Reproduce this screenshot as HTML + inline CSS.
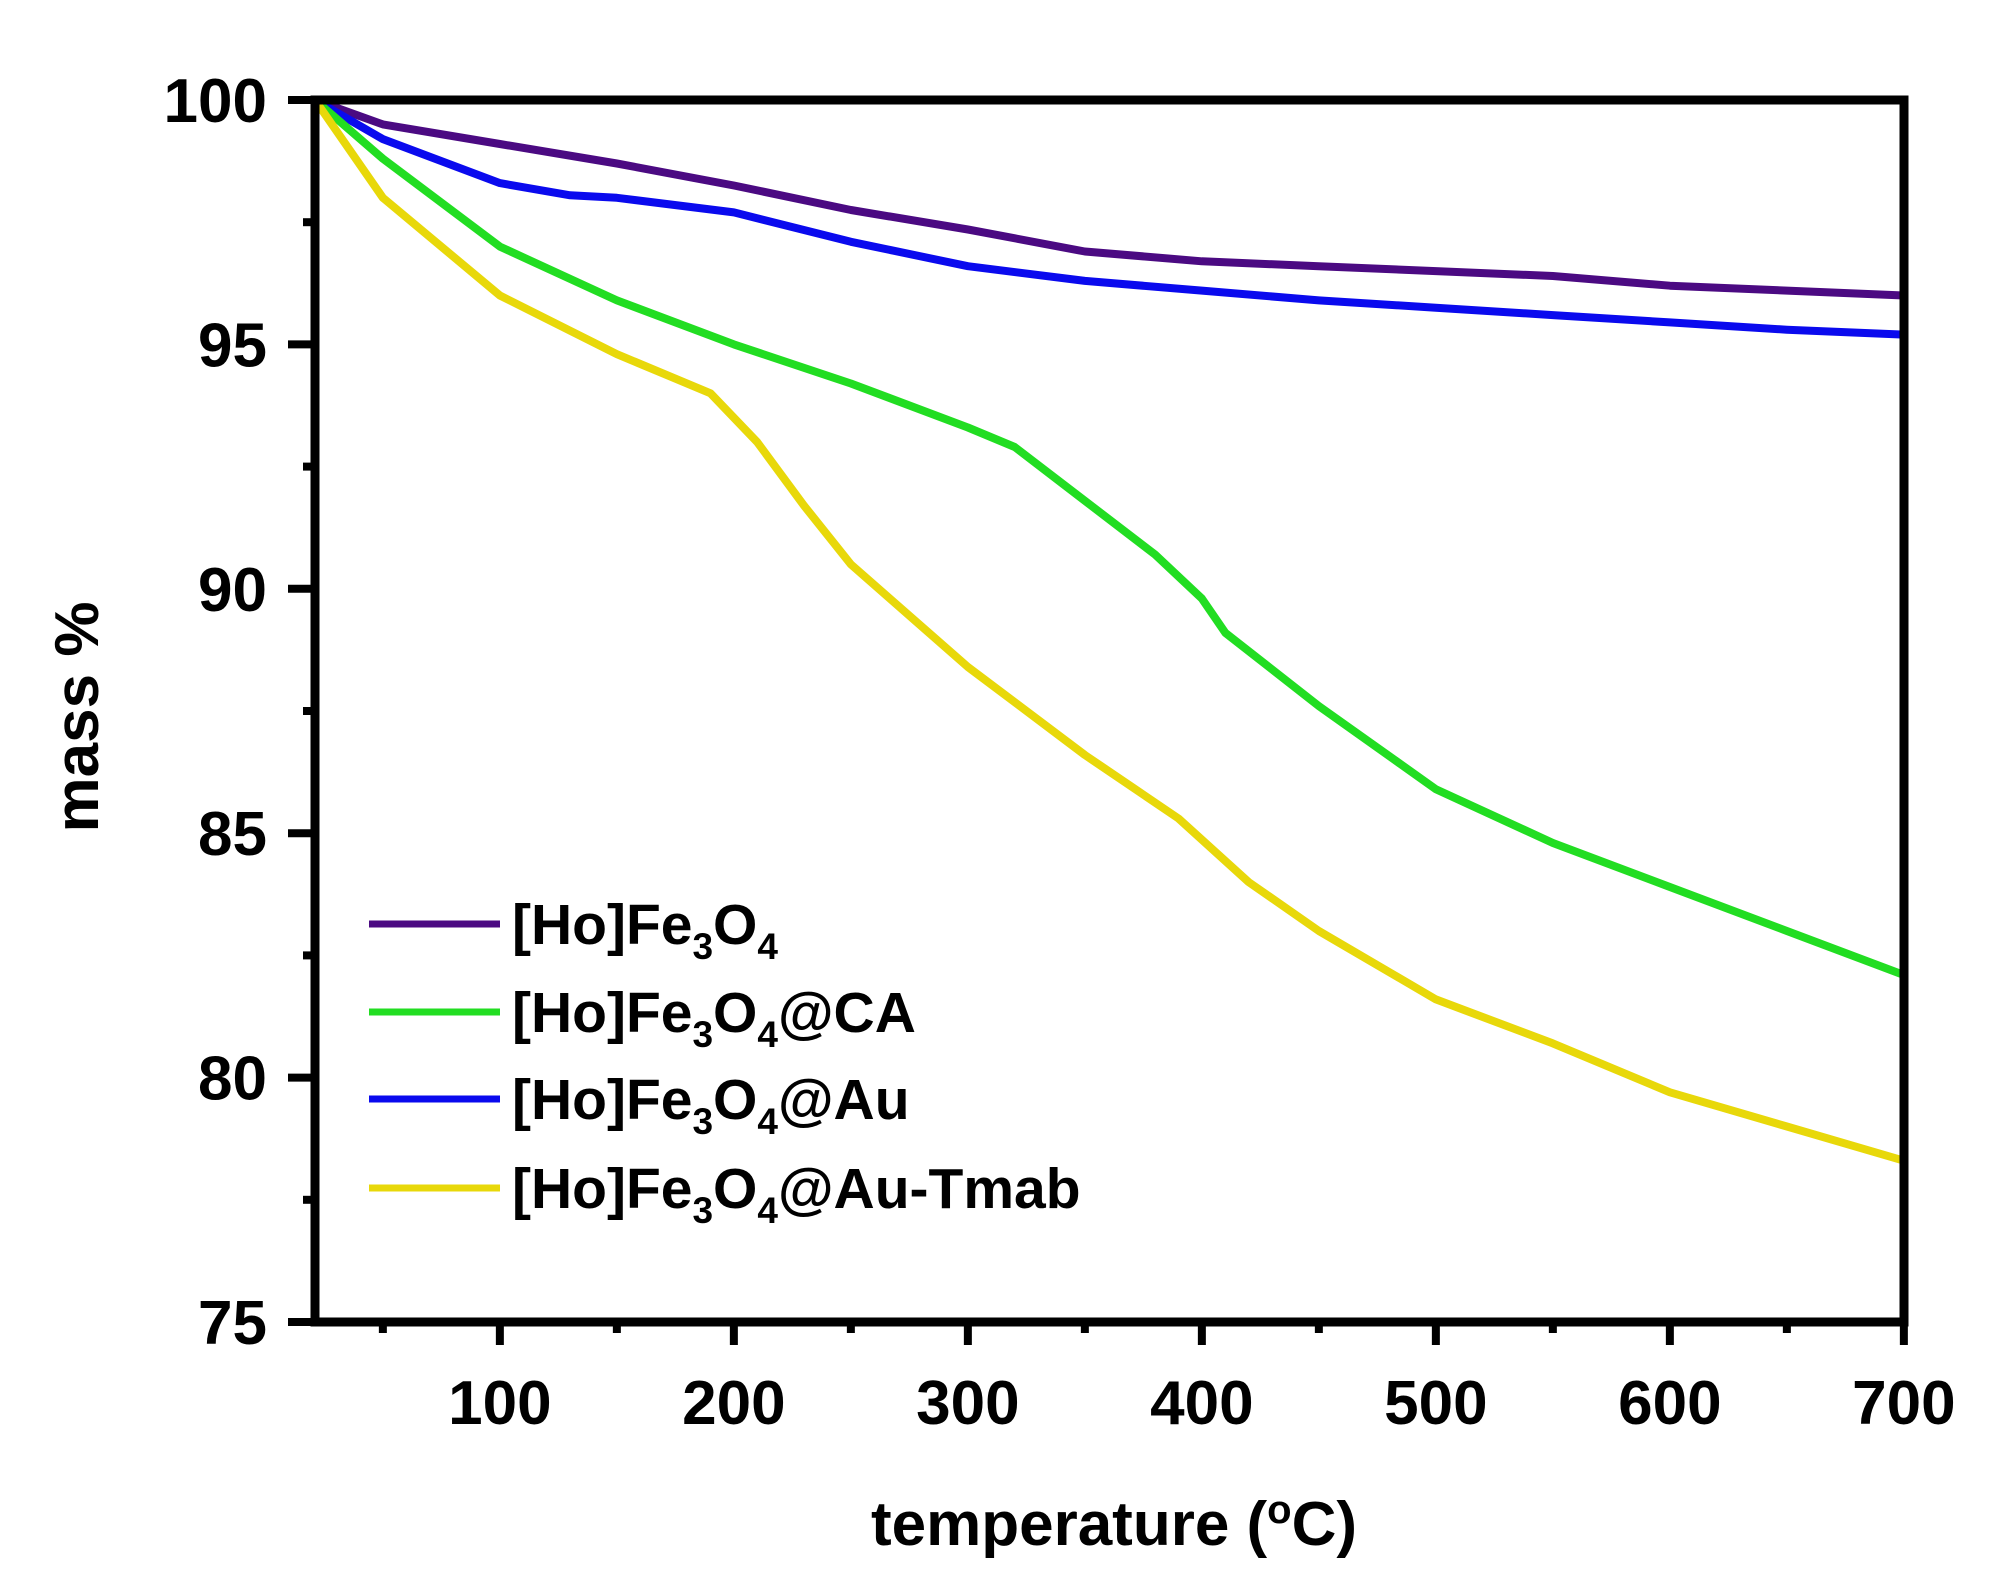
<!DOCTYPE html>
<html><head><style>
html,body{margin:0;padding:0;background:#fff;}
svg{display:block;}
text{font-family:"Liberation Sans",Arial,sans-serif;font-weight:bold;fill:#000;}
</style></head><body>
<svg id="s" width="1998" height="1595" xmlns="http://www.w3.org/2000/svg">
<g id="ticks"></g>
<g id="series" fill="none" stroke-width="8" stroke-linejoin="round" stroke-linecap="round"></g>
<rect x="315" y="100" width="1589" height="1222" fill="none" stroke="#000" stroke-width="9"/>
<g id="labels" font-size="62"></g>
<text x="1114" y="1545" font-size="62" text-anchor="middle">temperature (<tspan font-size="40" dy="-22">o</tspan><tspan dy="22">C)</tspan></text>
<text transform="translate(98,717) rotate(-90)" font-size="62" text-anchor="middle">mass %</text>
<g font-size="57">
<line x1="369" y1="924" x2="500" y2="924" stroke="#4b0a82" stroke-width="7"/>
<text x="512" y="944">[Ho]Fe<tspan font-size="37" dy="15">3</tspan><tspan dy="-15">O</tspan><tspan font-size="37" dy="15">4</tspan></text>
<line x1="369" y1="1012" x2="500" y2="1012" stroke="#22dd22" stroke-width="7"/>
<text x="512" y="1032">[Ho]Fe<tspan font-size="37" dy="15">3</tspan><tspan dy="-15">O</tspan><tspan font-size="37" dy="15">4</tspan><tspan dy="-15">@CA</tspan></text>
<line x1="369" y1="1099" x2="500" y2="1099" stroke="#0a0aee" stroke-width="7"/>
<text x="512" y="1119">[Ho]Fe<tspan font-size="37" dy="15">3</tspan><tspan dy="-15">O</tspan><tspan font-size="37" dy="15">4</tspan><tspan dy="-15">@Au</tspan></text>
<line x1="369" y1="1188" x2="500" y2="1188" stroke="#e8d80a" stroke-width="7"/>
<text x="512" y="1208">[Ho]Fe<tspan font-size="37" dy="15">3</tspan><tspan dy="-15">O</tspan><tspan font-size="37" dy="15">4</tspan><tspan dy="-15">@Au-Tmab</tspan></text>
</g>
</svg>
<script>
var X=function(t){return 315+(t-21)*2.34;},Y=function(m){return 100+(100-m)*48.88;};
var NS="http://www.w3.org/2000/svg";
function el(p,n,a,txt){var e=document.createElementNS(NS,n);for(var k in a)e.setAttribute(k,a[k]);if(txt!==undefined)e.textContent=txt;document.getElementById(p).appendChild(e);}
for(var t=50;t<=700;t+=50){var maj=t%100==0;el("ticks","line",{x1:X(t),y1:1322,x2:X(t),y2:maj?1345:1333,stroke:"#000","stroke-width":8});if(maj)el("labels","text",{x:X(t),y:1424,"text-anchor":"middle"},String(t));}
for(var m=75;m<=100;m+=2.5){var maj=m%5==0;el("ticks","line",{x1:315,y1:Y(m),x2:maj?288:303,y2:Y(m),stroke:"#000","stroke-width":8});if(maj)el("labels","text",{x:267,y:Y(m)+22,"text-anchor":"end"},String(m));}
var S=[
["#4b0a82",[[21,100],[50,99.5],[100,99.1],[150,98.7],[200,98.25],[250,97.75],[300,97.35],[350,96.9],[400,96.7],[450,96.6],[500,96.5],[550,96.4],[600,96.2],[650,96.1],[700,96.0]]],
["#0a0aee",[[21,100],[50,99.2],[100,98.3],[130,98.05],[150,98.0],[200,97.7],[250,97.1],[300,96.6],[350,96.3],[400,96.1],[450,95.9],[500,95.75],[550,95.6],[600,95.45],[650,95.3],[700,95.2]]],
["#22dd22",[[21,100],[50,98.8],[100,97.0],[150,95.9],[200,95.0],[250,94.2],[300,93.3],[320,92.9],[350,91.8],[380,90.7],[400,89.8],[410,89.1],[450,87.6],[500,85.9],[550,84.8],[600,83.9],[650,83.0],[700,82.1]]],
["#e8d80a",[[21,100],[50,98.0],[100,96.0],[150,94.8],[190,94.0],[210,93.0],[230,91.7],[250,90.5],[300,88.4],[350,86.6],[390,85.3],[420,84.0],[450,83.0],[500,81.6],[550,80.7],[600,79.7],[650,79.0],[700,78.3]]]];
S.forEach(function(s){var d=s[1].map(function(p,i){return (i?"L":"M")+X(p[0]).toFixed(1)+","+Y(p[1]).toFixed(1);}).join("");el("series","path",{d:d,stroke:s[0]});});
</script>
</body></html>
